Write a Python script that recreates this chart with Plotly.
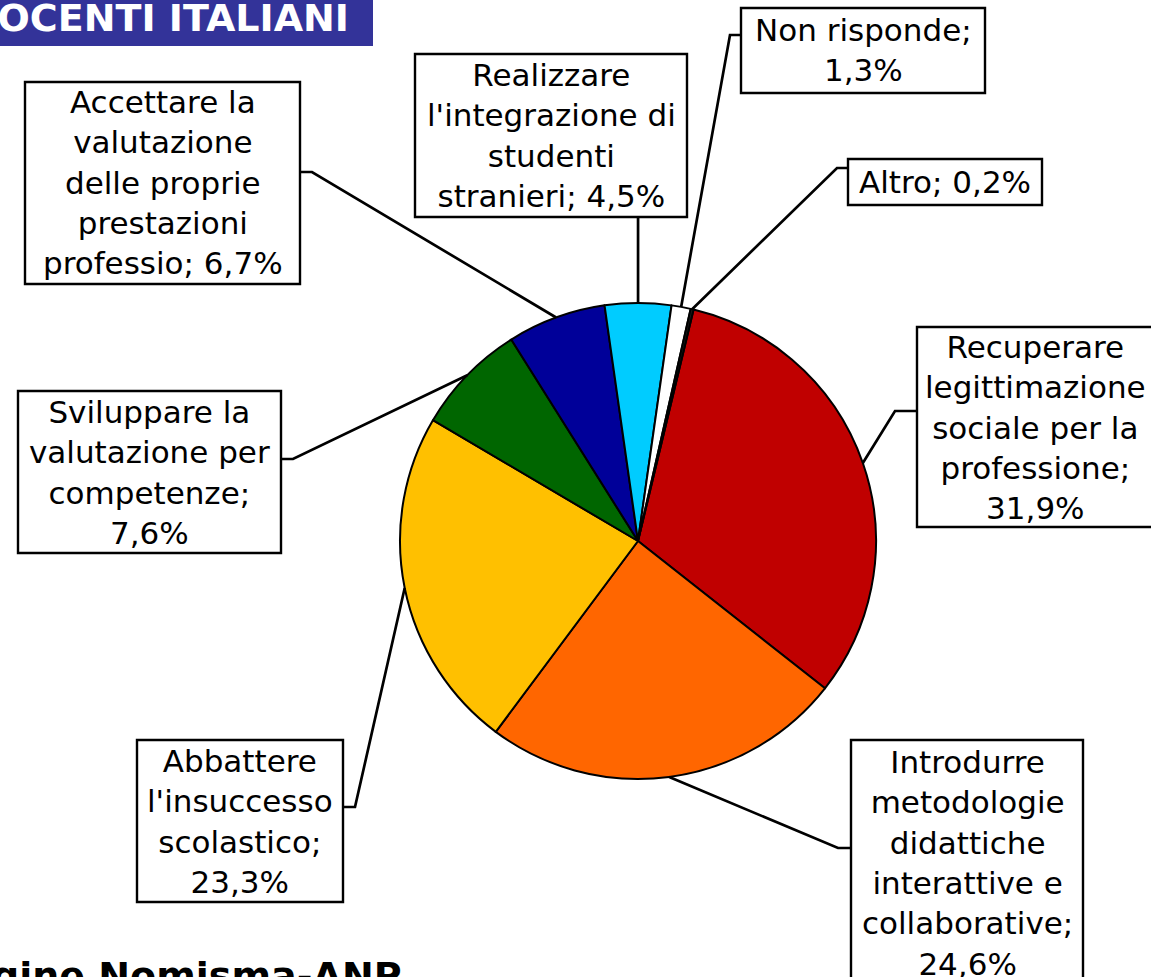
import math
import plotly.graph_objects as go

# ---------------- data ----------------
categories = [
    "Recuperare legittimazione sociale per la professione",
    "Introdurre metodologie didattiche interattive e collaborative",
    "Abbattere l'insuccesso scolastico",
    "Sviluppare la valutazione per competenze",
    "Accettare la valutazione delle proprie prestazioni professio",
    "Realizzare l'integrazione di studenti stranieri",
    "Non risponde",
    "Altro",
]
values = [31.9, 24.6, 23.3, 7.6, 6.7, 4.5, 1.3, 0.2]
wrapped_names = [
    "Recuperare<br>legittimazione<br>sociale per la<br>professione",
    "Introdurre<br>metodologie<br>didattiche<br>interattive e<br>collaborative",
    "Abbattere<br>l'insuccesso<br>scolastico",
    "Sviluppare la<br>valutazione per<br>competenze",
    "Accettare la<br>valutazione<br>delle proprie<br>prestazioni<br>professio",
    "Realizzare<br>l'integrazione di<br>studenti<br>stranieri",
    "Non risponde",
    "Altro",
]
value_separators = [";<br>", ";<br>", ";<br>", ";<br>", "; ", "; ", ";<br>", "; "]
colors = ["#C00000", "#FF6600", "#FFC000", "#006600", "#000099", "#00CCFF", "#FFFFFF", "#1A1A1A"]
title_text = "DOCENTI ITALIANI"
source_text = "Indagine Nomisma-ANP"

# ---------------- layout geometry (pixels) ----------------
W, H = 1151, 977
CX, CY, R = 638, 541, 238
ROTATION = 13.5
FONT = "DejaVu Sans, Verdana, sans-serif"

# label boxes: x0, y0, x1, y1, text center (tx, ty), box attach point (ax, ay), elbow point (ex, ey)
boxes = [
    dict(x0=917, y0=327, x1=1165, y1=527, tx=1035, ty=427, ax=917, ay=411, ex=895, ey=411),
    dict(x0=851, y0=740, x1=1083, y1=1000, tx=967, ty=863, ax=851, ay=848, ex=838, ey=848),
    dict(x0=137, y0=740, x1=343, y1=902, tx=240, ty=821, ax=343, ay=807, ex=355, ey=807),
    dict(x0=18, y0=391, x1=281, y1=553, tx=149.5, ty=472, ax=281, ay=459, ex=293, ey=459),
    dict(x0=25, y0=82, x1=300, y1=284, tx=162.5, ty=183, ax=300, ay=172, ex=312, ey=172),
    dict(x0=415, y0=54, x1=687, y1=217, tx=551, ty=135.5, ax=None, ay=217, ex=None, ey=217),
    dict(x0=741, y0=8, x1=985, y1=93, tx=863, ty=50.5, ax=741, ay=35, ex=730, ey=35),
    dict(x0=848, y0=159, x1=1042, y1=205, tx=945, ty=182, ax=848, ay=168, ex=837, ey=168),
]


def px(x):
    return x / W


def py(y):
    return 1 - y / H


fig = go.Figure()
fig.add_trace(go.Pie(
    labels=categories,
    values=values,
    sort=False,
    direction="clockwise",
    rotation=ROTATION,
    textinfo="none",
    hoverinfo="label+percent",
    marker=dict(colors=colors, line=dict(color="#000000", width=2)),
    domain=dict(x=[px(CX - R), px(CX + R)], y=[py(CY + R), py(CY - R)]),
    showlegend=False,
))

shapes = []
annotations = []

# title bar
shapes.append(dict(type="rect", xref="paper", yref="paper",
                   x0=px(-5), x1=px(373), y0=py(46), y1=py(-5),
                   fillcolor="#333399", line=dict(width=0), layer="below"))
annotations.append(dict(xref="paper", yref="paper", x=px(351), y=py(18),
                        xanchor="right", yanchor="middle", showarrow=False,
                        text="<b>%s</b>" % title_text,
                        font=dict(family=FONT, size=38, color="#FFFFFF")))
# source line (cut off at bottom in reference)
annotations.append(dict(xref="paper", yref="paper", x=px(404), y=py(976),
                        xanchor="right", yanchor="middle", showarrow=False,
                        text="<b>%s</b>" % source_text,
                        font=dict(family=FONT, size=38, color="#000000")))

total = sum(values)
cum = 0.0
for i, v in enumerate(values):
    mid = ROTATION + (cum + v / 2) / total * 360.0
    cum += v
    a = math.radians(mid)
    ex_pie = CX + R * math.sin(a)
    ey_pie = CY - R * math.cos(a)
    b = boxes[i]
    # box
    shapes.append(dict(type="rect", xref="paper", yref="paper",
                       x0=px(b["x0"]), x1=px(b["x1"]), y0=py(b["y1"]), y1=py(b["y0"]),
                       fillcolor="#FFFFFF", line=dict(color="#000000", width=2.4)))
    # leader line
    if b["ax"] is None:
        path = "M %f,%f L %f,%f" % (px(ex_pie), py(b["ay"]), px(ex_pie), py(ey_pie))
    else:
        path = "M %f,%f L %f,%f L %f,%f" % (px(b["ax"]), py(b["ay"]), px(b["ex"]), py(b["ey"]),
                                           px(ex_pie), py(ey_pie))
    shapes.append(dict(type="path", xref="paper", yref="paper", path=path,
                       line=dict(color="#000000", width=2.7)))
    label = wrapped_names[i] + value_separators[i] + ("%.1f" % v).replace(".", ",") + "%"
    annotations.append(dict(xref="paper", yref="paper", x=px(b["tx"]), y=py(b["ty"]),
                            xanchor="center", yanchor="middle", showarrow=False,
                            align="center", text=label,
                            font=dict(family=FONT, size=31, color="#000000")))

fig.update_layout(
    width=W, height=H,
    margin=dict(l=0, r=0, t=0, b=0),
    paper_bgcolor="#FFFFFF",
    plot_bgcolor="#FFFFFF",
    shapes=shapes,
    annotations=annotations,
)

fig.write_html("out.html",
               config={"displayModeBar": False},
               post_script="document.body.style.margin='0';document.body.style.overflow='hidden';")
